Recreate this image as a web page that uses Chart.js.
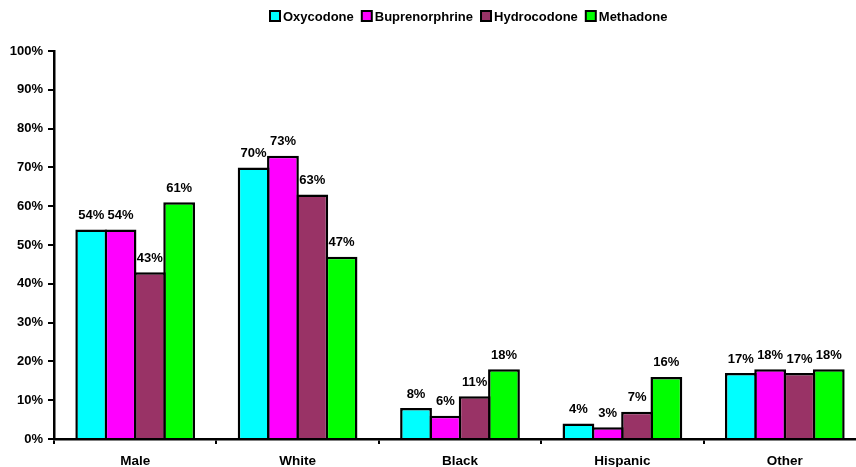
<!DOCTYPE html>
<html>
<head>
<meta charset="utf-8">
<script src="https://cdn.jsdelivr.net/npm/chart.js@4/dist/chart.umd.min.js"></script>
<style>
  html, body { margin: 0; padding: 0; background: #fff; overflow: hidden; }
  #wrap { position: relative; width: 880px; height: 467px; }
</style>
</head>
<body>
<div id="wrap"><canvas id="chart"></canvas></div>
<script>
"use strict";
const CATEGORIES = ["Male", "White", "Black", "Hispanic", "Other"];
const SERIES = ["Oxycodone", "Buprenorphrine", "Hydrocodone", "Methadone"];
const OXYCODONE = [54, 70, 8, 4, 17];
const BUPRENORPHRINE = [54, 73, 6, 3, 18];
const HYDROCODONE = [43, 63, 11, 7, 17];
const METHADONE = [61, 47, 18, 16, 18];
const Y_TICKS = [0, 10, 20, 30, 40, 50, 60, 70, 80, 90, 100];
const COLORS = ["#00ffff", "#ff00ff", "#993366", "#00ff00"];

const FONT = "'Liberation Sans', Arial, sans-serif";
const VALUES = [OXYCODONE, BUPRENORPHRINE, HYDROCODONE, METHADONE];

// legend drawn by hand: small box, tight gap, text
const legendPlugin = {
  id: "flatLegend",
  afterDraw(chart) {
    const ctx = chart.ctx;
    const cx = 469, cy = 16, box = 10, gapIn = 3, gapOut = 8;
    ctx.save();
    ctx.font = "bold 13px " + FONT;
    const widths = SERIES.map((s) => ctx.measureText(s).width);
    const total = widths.reduce((a, w) => a + box + gapIn + w, 0) + gapOut * (SERIES.length - 1);
    let x = Math.round(cx - total / 2);
    ctx.textBaseline = "middle";
    ctx.textAlign = "left";
    SERIES.forEach((s, i) => {
      ctx.fillStyle = COLORS[i];
      ctx.fillRect(x, cy - box / 2, box, box);
      ctx.lineWidth = 2;
      ctx.strokeStyle = "#000";
      ctx.strokeRect(x, cy - box / 2, box, box);
      ctx.fillStyle = "#000";
      ctx.fillText(s, x + box + gapIn, cy + 1);
      x += box + gapIn + widths[i] + gapOut;
    });
    ctx.restore();
  },
};

const valueLabels = {
  id: "valueLabels",
  afterDatasetsDraw(chart) {
    const ctx = chart.ctx;
    ctx.save();
    ctx.font = "bold 13px " + FONT;
    ctx.fillStyle = "#000";
    ctx.textAlign = "center";
    ctx.textBaseline = "middle";
    chart.data.datasets.forEach((ds, di) => {
      chart.getDatasetMeta(di).data.forEach((bar, i) => {
        ctx.fillText(ds.data[i] + "%", bar.x, bar.y - 14);
      });
    });
    ctx.restore();
  },
};

new Chart(document.getElementById("chart"), {
  type: "bar",
  data: {
    labels: CATEGORIES,
    datasets: SERIES.map((name, i) => ({
      label: name,
      data: VALUES[i],
      backgroundColor: COLORS[i],
      borderColor: "#000",
      borderWidth: { top: 2.5, left: 2.5, right: 2.5, bottom: 0 },
      borderSkipped: false,
      categoryPercentage: 0.722,
      barPercentage: 1.085,
    })),
  },
  options: {
    responsive: true, maintainAspectRatio: false, animation: false,
    layout: { padding: { top: 51, right: 14, left: 0, bottom: 0 } },
    plugins: { legend: { display: false }, tooltip: { enabled: false } },
    scales: {
      x: {
        offset: true,
        grid: { offset: true, drawOnChartArea: false, drawTicks: true, tickLength: 5, color: "#000", lineWidth: 2 },
        border: { color: "#000", width: 2.5 },
        ticks: { color: "#000", padding: 9, font: { family: FONT, size: 13.5, weight: "bold" } },
        afterFit(scale) { scale.height = 28; },
      },
      y: {
        min: 0, max: 100,
        afterBuildTicks(scale) { scale.ticks = Y_TICKS.map((v) => ({ value: v })); },
        grid: { drawOnChartArea: false, drawTicks: true, tickLength: 6, color: "#000", lineWidth: 2 },
        border: { color: "#000", width: 2.5 },
        ticks: {
          color: "#000", padding: 5,
          font: { family: FONT, size: 13, weight: "bold" },
          callback: (v) => v + "%",
        },
        afterFit(scale) { scale.width = 54; },
      },
    },
  },
  plugins: [legendPlugin, valueLabels],
});
</script>
</body>
</html>
